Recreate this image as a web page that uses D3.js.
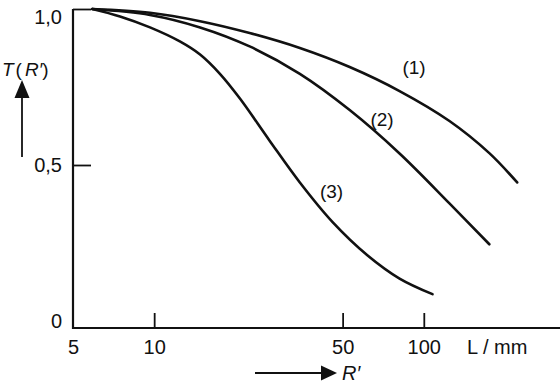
<!DOCTYPE html>
<html>
<head>
<meta charset="utf-8">
<script src="https://cdn.jsdelivr.net/npm/d3@7"></script>
<style>
  body { margin: 0; background: #fff; }
  svg text { font-family: "Liberation Sans", Arial, sans-serif; fill: #111; }
</style>
</head>
<body>
<svg id="chart" width="560" height="386"></svg>
<script>
// Data, x = L in mm, y = T(R')
var curve1 = [[5.9, 1.0], [9.65, 0.988], [14.8, 0.961], [22.6, 0.923], [34.7, 0.875], [53.1, 0.814], [81.3, 0.737], [124.5, 0.641], [175, 0.538], [222, 0.444]];
var curve2 = [[5.9, 1.0], [9.65, 0.981], [14.8, 0.941], [22.6, 0.880], [34.7, 0.792], [53.1, 0.676], [81.3, 0.537], [124.5, 0.377], [175, 0.246]];
var curve3 = [[5.9, 1.0], [7.47, 0.976], [9.65, 0.941], [12.45, 0.896], [14.8, 0.854], [17.5, 0.793], [20.8, 0.713], [26.8, 0.578], [34.7, 0.444], [45.9, 0.317], [61.9, 0.210], [81.3, 0.136], [107.7, 0.086]];
var seriesNames = ["(1)", "(2)", "(3)"];
var labelAnchors = [[92, 0.814], [70, 0.647], [45.5, 0.417]];
var xTicks = [5, 10, 50, 100];
var yTicks = [0, 0.5, 1];
var yTickLabels = ["0", "0,5", "1,0"];

var svg = d3.select("#chart");

// Scales
var x = d3.scaleLog().domain([5, 320]).range([73, 560]);
var y = d3.scaleLinear().domain([0, 1]).range([321, 9]);
var axisY = 328;  // x axis sits a bit below T = 0

// Axis frame
svg.append("path")
  .attr("d", "M" + x(5) + "," + y(1) + "V" + axisY + "H" + x(320))
  .attr("fill", "none")
  .attr("stroke", "#111")
  .attr("stroke-width", 2.2);

// X axis (ticks point up)
var gx = svg.append("g")
  .attr("transform", "translate(0," + axisY + ")")
  .call(d3.axisBottom(x).tickValues(xTicks).tickSize(-15).tickPadding(7)
    .tickFormat(function(d) { return d; }));
gx.select(".domain").remove();
gx.selectAll(".tick line").attr("stroke", "#111").attr("stroke-width", 1.8)
  .filter(function(d) { return d === 5; }).remove();
gx.selectAll(".tick text").attr("dy", "0.95em").style("font-size", "20px").style("fill", "#111");

svg.append("text")
  .attr("x", 467)
  .attr("y", axisY + 26)
  .style("font-size", "20px")
  .text("L / mm");

// Y axis (ticks point right)
var gy = svg.append("g")
  .attr("transform", "translate(" + x(5) + ",0)")
  .call(d3.axisLeft(y).tickValues(yTicks).tickSize(-18).tickPadding(11)
    .tickFormat(function(d, i) { return yTickLabels[i]; }));
gy.select(".domain").remove();
gy.selectAll(".tick line").attr("stroke", "#111").attr("stroke-width", 1.8)
  .filter(function(d) { return d === 0; }).remove();
gy.selectAll(".tick text").style("font-size", "20px").style("fill", "#111");
gy.selectAll(".tick").filter(function(d) { return d === 1; }).select("text").attr("dy", "0.7em");

// Curves
var line = d3.line()
  .x(function(d) { return x(d[0]); })
  .y(function(d) { return y(d[1]); })
  .curve(d3.curveCatmullRom.alpha(0.5));

svg.selectAll("path.curve")
  .data([curve1, curve2, curve3])
  .enter().append("path")
  .attr("class", "curve")
  .attr("d", line)
  .attr("fill", "none")
  .attr("stroke", "#111")
  .attr("stroke-width", 2.6)
  .attr("stroke-linecap", "round");

// Curve labels
svg.selectAll("text.curvelabel")
  .data(seriesNames)
  .enter().append("text")
  .attr("class", "curvelabel")
  .attr("x", function(d, i) { return x(labelAnchors[i][0]); })
  .attr("y", function(d, i) { return y(labelAnchors[i][1]); })
  .attr("dy", "0.36em")
  .attr("text-anchor", "middle")
  .style("font-size", "19px")
  .text(function(d) { return d; });

// Y label with upward arrow
var ylab = svg.append("text")
  .attr("x", 2)
  .attr("y", 76)
  .style("font-size", "19px");
ylab.append("tspan").style("font-style", "italic").text("T");
ylab.append("tspan").attr("dx", 2).text("(");
ylab.append("tspan").attr("dx", 3).style("font-style", "italic").text("R′");
ylab.append("tspan").text(")");

svg.append("line")
  .attr("x1", 22).attr("x2", 22)
  .attr("y1", 157).attr("y2", 95)
  .attr("stroke", "#111").attr("stroke-width", 1.8);
svg.append("path")
  .attr("d", "M22,80L14.5,98L29.5,98Z")
  .attr("fill", "#111");

// X label arrow with R'
svg.append("line")
  .attr("x1", 255).attr("x2", 325)
  .attr("y1", 373).attr("y2", 373)
  .attr("stroke", "#111").attr("stroke-width", 1.8);
svg.append("path")
  .attr("d", "M337,373L321,365.5L321,380.5Z")
  .attr("fill", "#111");
svg.append("text")
  .attr("x", 342)
  .attr("y", 380)
  .style("font-size", "20px")
  .style("font-style", "italic")
  .text("R′");
</script>
</body>
</html>
